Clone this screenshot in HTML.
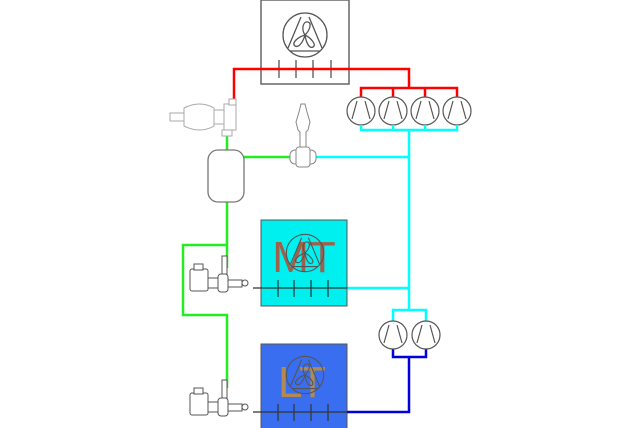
<!DOCTYPE html>
<html><head><style>body{margin:0;background:#fff}svg{display:block}</style></head>
<body>
<svg width="640" height="428" viewBox="0 0 640 428" xmlns="http://www.w3.org/2000/svg" fill="none">
<defs>
<g id="fan" stroke="#555" stroke-width="1.3" fill="none">
<circle r="22"/>
<path d="M-17,13 L-4,-18 M17,13 L4,-18 M-15,16 L15,16"/>
<path d="M0,0 C-4,-6 -2,-14 3,-13 C7,-12 5,-5 0,0 M0,0 C-7,2 -14,8 -10,11 C-6,13 -2,7 0,0 M0,0 C6,3 12,10 8,12 C4,14 1,7 0,0"/>
</g>
<g id="comp" stroke="#555" stroke-width="1.2" fill="#fff">
<circle r="14"/>
<path d="M-9,8 L-4,-10 M9,8 L4,-10" fill="none"/>
</g>
<g id="sol" stroke="#555" stroke-width="1" fill="#fff">
<rect x="0" y="5" width="18" height="22" rx="2"/>
<rect x="4" y="0" width="9" height="6"/>
<rect x="18" y="14" width="10" height="10"/>
<rect x="28" y="10" width="10" height="18" rx="3"/>
<rect x="32" y="-8" width="5" height="18"/>
<rect x="38" y="16" width="14" height="7"/>
<circle cx="55" cy="19" r="3"/>
</g>
</defs>

<!-- top condenser -->
<rect x="261" y="0" width="88" height="84" fill="#fff" stroke="#666" stroke-width="1.5"/>
<use href="#fan" x="305" y="35"/>
<g stroke="#555" stroke-width="1.3"><path d="M279,60V78M296,60V78M313,60V78M331,60V78"/></g>

<!-- red -->
<g stroke="#f00" stroke-width="2.5">
<path d="M234,102V69H409V88"/>
<path d="M361,97V88H457V97M393,88V97M425,88V97"/>
</g>
<!-- compressors -->
<use href="#comp" x="361" y="111"/><use href="#comp" x="393" y="111"/>
<use href="#comp" x="425" y="111"/><use href="#comp" x="457" y="111"/>

<!-- cyan -->
<g stroke="#0ff" stroke-width="2.5">
<path d="M361,125V130H457V125M393,125V130M425,125V130"/>
<path d="M409,130V310"/>
<path d="M316,157H409"/>
<path d="M347,288H409"/>
<path d="M393,321V310H426V321"/>
</g>

<!-- green -->
<g stroke="#2e2" stroke-width="2.5">
<path d="M227,135V150"/>
<path d="M244,157H290"/>
<path d="M227,200V268"/>
<path d="M227,245H183V315H227V388"/>
</g>

<!-- top-left valve -->
<g stroke="#aaa" stroke-width="1" fill="#fff">
<rect x="170" y="113" width="14" height="8"/>
<path d="M184,108 Q200,100 214,108 V126 Q200,134 184,126Z"/>
<rect x="214" y="110" width="10" height="14"/>
<rect x="224" y="104" width="12" height="26"/>
<rect x="229" y="99" width="7" height="6"/>
<rect x="222" y="130" width="10" height="6"/>
</g>
<!-- receiver -->
<rect x="208" y="150" width="36" height="52" rx="10" fill="#fff" stroke="#777" stroke-width="1.3"/>
<!-- center valve -->
<g stroke="#888" stroke-width="1" fill="#fff">
<path d="M301,104 L305,104 L307,112 L310,122 L308,130 L306,132 V148 H300 V132 L298,130 L296,122 L299,112Z"/>
<rect x="290" y="150" width="26" height="14" rx="5"/>
<rect x="296" y="147" width="14" height="20" rx="3"/>
</g>

<!-- MT -->
<rect x="261" y="220" width="86" height="86" fill="#00f0f0" stroke="#555" stroke-width="1"/>
<text x="304" y="272" font-family="Liberation Sans, sans-serif" font-size="44" fill="#a0604a" text-anchor="middle" font-weight="300">MT</text>
<use href="#fan" x="305" y="253" transform="translate(305 253) scale(0.85) translate(-305 -253)"/>
<g stroke="#333" stroke-width="1.2"><path d="M253,288H347M278,280V297M294,280V297M311,280V297M328,280V297"/></g>
<use href="#sol" x="190" y="264"/>

<!-- LT -->
<rect x="261" y="344" width="86" height="86" fill="#3a6ef0" stroke="#555" stroke-width="1"/>
<text x="302" y="397" font-family="Liberation Sans, sans-serif" font-size="44" fill="#b08a50" text-anchor="middle">LT</text>
<use href="#fan" x="305" y="375" transform="translate(305 375) scale(0.85) translate(-305 -375)"/>
<g stroke="#333" stroke-width="1.2"><path d="M253,412H347M278,404V421M294,404V421M311,404V421M328,404V421"/></g>
<use href="#sol" x="190" y="388"/>

<!-- blue -->
<g stroke="#00d" stroke-width="2.5">
<path d="M347,412H409V357"/>
<path d="M393,349V357H426V349"/>
</g>
<use href="#comp" x="393" y="335"/><use href="#comp" x="426" y="335"/>
</svg>
</body></html>
